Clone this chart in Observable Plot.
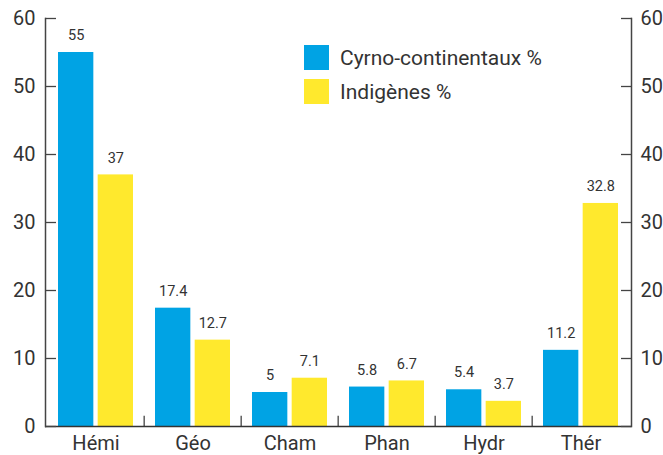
<!DOCTYPE html>
<html>
<head>
<meta charset="utf-8">
<script src="https://cdn.jsdelivr.net/npm/d3@7"></script>
<script src="https://cdn.jsdelivr.net/npm/@observablehq/plot@0.6"></script>
<style>
  body { margin: 0; background: #fff; }
  #wrap { position: relative; width: 663px; height: 455px; font-family: Roboto, "Liberation Sans", sans-serif; color: #333; }
  .legend { position: absolute; left: 304px; top: 45px; font-size: 21px; }
  .legend div { display: flex; align-items: center; height: 25px; margin-bottom: 9px; }
  .legend span.sw { display: inline-block; width: 25px; height: 25px; margin-right: 11px; }
</style>
</head>
<body>
<div id="wrap"></div>
<script>
const categories = ["Hémi", "Géo", "Cham", "Phan", "Hydr", "Thér"];
const seriesNames = ["Cyrno-continentaux %", "Indigènes %"];
const cyrno = [55, 17.4, 5, 5.8, 5.4, 11.2];
const indigenes = [37, 12.7, 7.1, 6.7, 3.7, 32.8];
const yTicks = [0, 10, 20, 30, 40, 50, 60];
const colors = ["#00a3e4", "#ffe92d"];

const dataA = categories.map((c, i) => ({cat: c, v: cyrno[i]}));
const dataB = categories.map((c, i) => ({cat: c, v: indigenes[i]}));

const W = 663, H = 455, mL = 45, mR = 32, mT = 18, mB = 29;
const step = (W - mL - mR) / categories.length;
const edge = 11, barW = 36;
const innerR = step - edge - barW; // inset on the far side
const off = step / 2 - edge - barW / 2;

const chart = Plot.plot({
  width: W, height: H,
  marginLeft: mL, marginRight: mR, marginTop: mT, marginBottom: mB,
  style: {fontFamily: "Roboto, 'Liberation Sans', sans-serif", color: "#333", background: "#fff"},
  x: {domain: categories, padding: 0, label: null},
  y: {domain: [0, 60], label: null},
  marks: [
    Plot.barY(dataA, {x: "cat", y: "v", fill: colors[0], insetLeft: edge, insetRight: innerR}),
    Plot.barY(dataB, {x: "cat", y: "v", fill: colors[1], insetLeft: innerR, insetRight: edge}),
    Plot.text(dataA, {x: "cat", y: "v", text: d => String(d.v), dx: -off, dy: -17, fontSize: 14.5, fill: "#333"}),
    Plot.text(dataB, {x: "cat", y: "v", text: d => String(d.v), dx: off, dy: -17, fontSize: 14.5, fill: "#333"}),
    Plot.ruleX(categories.slice(1), {x: d => d, y1: 0, y2: 1.5, dx: -step / 2, stroke: "#444", strokeWidth: 1.3}),
    Plot.ruleY([0], {stroke: "#333", strokeWidth: 1.5}),
    Plot.frame({anchor: "left", stroke: "#444", strokeWidth: 1.5}),
    Plot.frame({anchor: "right", stroke: "#444", strokeWidth: 1.5}),
    Plot.axisY({anchor: "left", ticks: yTicks, tickSize: -11, tickPadding: 21, fontSize: 20, stroke: "#444", strokeWidth: 1.3, label: null}),
    Plot.axisY({anchor: "right", ticks: yTicks, tickSize: -11, tickPadding: 20, fontSize: 20, stroke: "#444", strokeWidth: 1.3, label: null}),
    Plot.axisX({tickSize: 0, tickPadding: 9, fontSize: 20, label: null})
  ]
});

const wrap = document.getElementById("wrap");
wrap.appendChild(chart);
const legend = document.createElement("div");
legend.className = "legend";
seriesNames.forEach((n, i) => {
  const row = document.createElement("div");
  const sw = document.createElement("span");
  sw.className = "sw";
  sw.style.background = colors[i];
  row.appendChild(sw);
  row.appendChild(document.createTextNode(n));
  legend.appendChild(row);
});
wrap.appendChild(legend);
</script>
</body>
</html>
